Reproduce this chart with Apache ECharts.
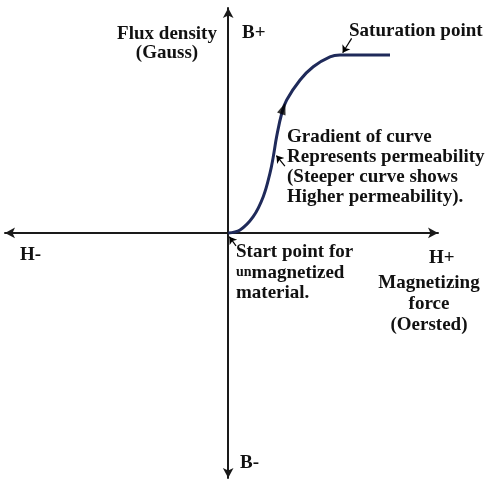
<!DOCTYPE html>
<html>
<head>
<meta charset="utf-8">
<script src="https://cdn.jsdelivr.net/npm/echarts@6/dist/echarts.min.js"></script>
<style>
  html, body { margin: 0; padding: 0; background: #ffffff; }
  #chart { width: 487px; height: 485px; }
</style>
</head>
<body>
<div id="chart"></div>
<script>
// magnetization curve, H (x) and B (y) in arbitrary units
var curveH = [0, 0.53, 1.12, 1.57, 1.87, 2.02, 2.17, 2.40, 2.62, 3.22, 3.81, 4.56, 5.01, 7.25]
var curveB = [0, 0.13, 0.72, 1.61, 2.65, 3.39, 4.28, 5.32, 5.91, 6.80, 7.39, 7.83, 7.91, 7.91]

// direction arrow sitting on the curve
var arrowH = [2.47]
var arrowB = [5.54]

// pointer arrows: [tailH, tailB, tipH, tipB]
var pointerSaturation = [5.53, 8.65, 5.13, 8.01]
var pointerGradient = [2.54, 2.97, 2.16, 3.44]
var pointerStart = [0.35, -0.58, 0.05, -0.17]

var axisRange = { hMin: -10, hMax: 9.4, bMin: -10.9, bMax: 10 }

var FONT = '"Liberation Serif", "Times New Roman", serif'
var INK = '#111111'

var chart = echarts.init(document.getElementById('chart'))

function pointer(p) {
  return { coords: [[p[0], p[1]], [p[2], p[3]]] }
}

function label(x, y, text, align, lineHeight) {
  return {
    type: 'text',
    x: x,
    y: y,
    style: {
      text: text,
      fontFamily: FONT,
      fontWeight: 'bold',
      fontSize: 19,
      lineHeight: lineHeight || 20,
      fill: INK,
      textAlign: align || 'left',
      textVerticalAlign: 'top',
      rich: {
        s: { fontFamily: FONT, fontWeight: 'bold', fontSize: 14, fill: INK }
      }
    }
  }
}

var option = {
  animation: false,
  backgroundColor: '#ffffff',
  grid: { left: 5, right: 49, top: 8, bottom: 7 },
  xAxis: {
    type: 'value',
    min: axisRange.hMin,
    max: axisRange.hMax,
    axisLine: {
      show: true,
      onZero: true,
      symbol: ['arrow', 'arrow'],
      symbolSize: [8, 10],
      lineStyle: { color: '#1a1a1a', width: 2 }
    },
    axisTick: { show: false },
    axisLabel: { show: false },
    splitLine: { show: false }
  },
  yAxis: {
    type: 'value',
    min: axisRange.bMin,
    max: axisRange.bMax,
    axisLine: {
      show: true,
      onZero: true,
      symbol: ['arrow', 'arrow'],
      symbolSize: [8, 10],
      lineStyle: { color: '#1a1a1a', width: 2 }
    },
    axisTick: { show: false },
    axisLabel: { show: false },
    splitLine: { show: false }
  },
  series: [
    {
      type: 'line',
      smooth: 0.4,
      showSymbol: false,
      lineStyle: { color: '#1f2a5a', width: 3 },
      data: curveH.map(function (h, i) { return [h, curveB[i]] }),
      z: 3
    },
    {
      type: 'scatter',
      symbol: 'triangle',
      symbolSize: [9, 12],
      symbolRotate: -20,
      itemStyle: { color: '#000000' },
      data: arrowH.map(function (h, i) { return [h, arrowB[i]] }),
      z: 4
    },
    {
      type: 'lines',
      coordinateSystem: 'cartesian2d',
      symbol: ['none', 'arrow'],
      symbolSize: 7,
      lineStyle: { color: '#000000', width: 1.2, opacity: 1 },
      data: [pointer(pointerSaturation), pointer(pointerGradient), pointer(pointerStart)],
      z: 4
    }
  ],
  graphic: [
    label(167, 25, 'Flux density\n(Gauss)', 'center', 19),
    label(242, 23, 'B+'),
    label(349, 21, 'Saturation point'),
    label(287, 127, 'Gradient of curve\nRepresents permeability\n(Steeper curve shows\nHigher permeability).', 'left', 20),
    label(20, 245, 'H-'),
    label(429, 248, 'H+'),
    label(429, 273, 'Magnetizing\nforce\n(Oersted)', 'center', 21),
    label(236, 242, 'Start point for\n{s|un}magnetized\nmaterial.', 'left', 20.5),
    label(240, 453, 'B-')
  ]
}

chart.setOption(option)
</script>
</body>
</html>
